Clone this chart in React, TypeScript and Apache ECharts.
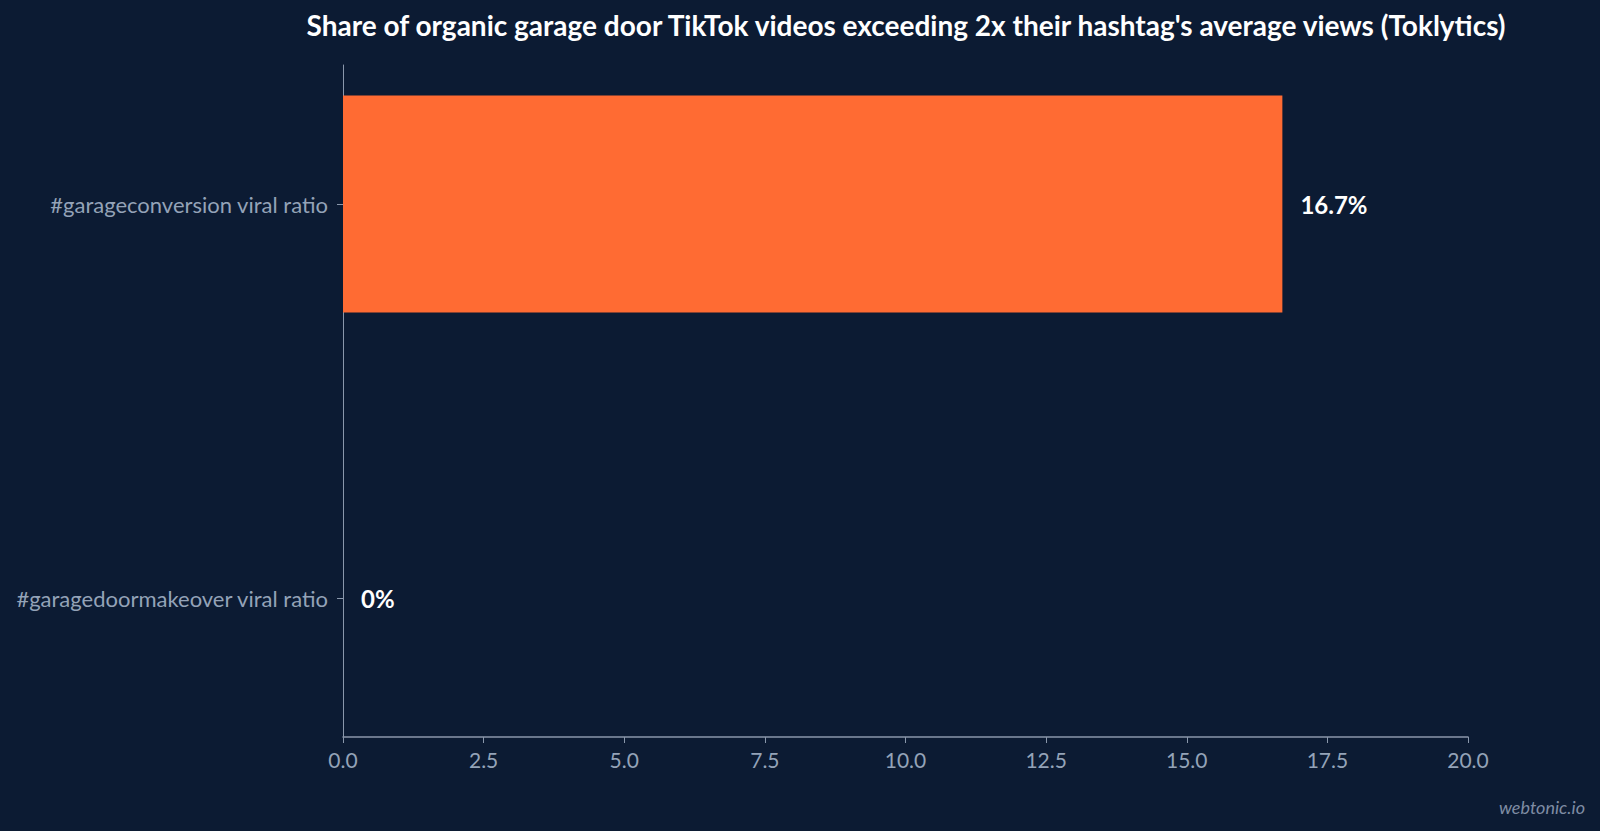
import React, { useEffect, useRef } from "react";
import * as echarts from "echarts";

const categories = ["#garagedoormakeover viral ratio", "#garageconversion viral ratio"];
const values = [0, 16.7];
const titleText = "Share of organic garage door TikTok videos exceeding 2x their hashtag's average views (Toklytics)";
const watermark = "webtonic.io";

const BG = "#0c1b33";
const AXIS = "#8a97ab";
const LABEL = "#94a3b8";

export default function App() {
  const ref = useRef<HTMLDivElement>(null);
  useEffect(() => {
    document.body.style.margin = "0";
    const chart = echarts.init(ref.current!, undefined, { renderer: "svg" });
    chart.setOption({
      animation: false,
      backgroundColor: BG,
      title: {
        text: titleText,
        left: 906,
        textAlign: "center",
        top: 11,
        padding: 0,
        textStyle: { color: "#ffffff", fontFamily: "Lato", fontWeight: "bold", fontSize: 28 },
      },
      grid: [
        { left: 343, right: 132, top: 65, bottom: 94 },
        { left: 343, right: 132, top: 7, bottom: 36 },
      ],
      xAxis: [
        {
          type: "value",
          gridIndex: 0,
          min: 0,
          max: 20,
          interval: 2.5,
          axisLine: { show: true, lineStyle: { color: AXIS, width: 1.5 } },
          axisTick: { show: true, length: 6, lineStyle: { color: AXIS } },
          axisLabel: {
            color: LABEL,
            fontFamily: "Lato",
            fontSize: 21,
            margin: 12,
            formatter: (v: number) => v.toFixed(1),
          },
          splitLine: { show: false },
        },
        {
          type: "value",
          gridIndex: 1,
          min: 0,
          max: 20,
          show: false,
        },
      ],
      yAxis: [
        {
          type: "category",
          gridIndex: 0,
          data: categories,
          axisLine: { show: true, lineStyle: { color: AXIS, width: 1 } },
          axisTick: { show: false },
          axisLabel: { show: false },
          splitLine: { show: false },
        },
        {
          type: "category",
          gridIndex: 1,
          data: categories,
          axisLine: { show: false },
          axisTick: { show: true, alignWithLabel: true, length: 6, lineStyle: { color: AXIS } },
          axisLabel: { color: LABEL, fontFamily: "Lato", fontSize: 22, margin: 15 },
          splitLine: { show: false },
        },
      ],
      series: [
        {
          type: "bar",
          xAxisIndex: 1,
          yAxisIndex: 1,
          data: values,
          barWidth: 217,
          itemStyle: { color: "#ff6b33" },
          label: {
            show: true,
            position: "right",
            distance: 18,
            color: "#ffffff",
            fontFamily: "Lato",
            fontWeight: "bold",
            fontSize: 24,
            formatter: (p: any) => `${p.value}%`,
          },
        },
      ],
      graphic: [
        {
          type: "text",
          right: 15,
          bottom: 15,
          style: {
            text: watermark,
            fill: "#7f8ca3",
            font: "italic 18px Lato",
          },
        },
      ],
    });
    return () => chart.dispose();
  }, []);
  return (
    <div
      ref={ref}
      style={{ position: "absolute", left: 0, top: 0, width: 1600, height: 831 }}
    />
  );
}
